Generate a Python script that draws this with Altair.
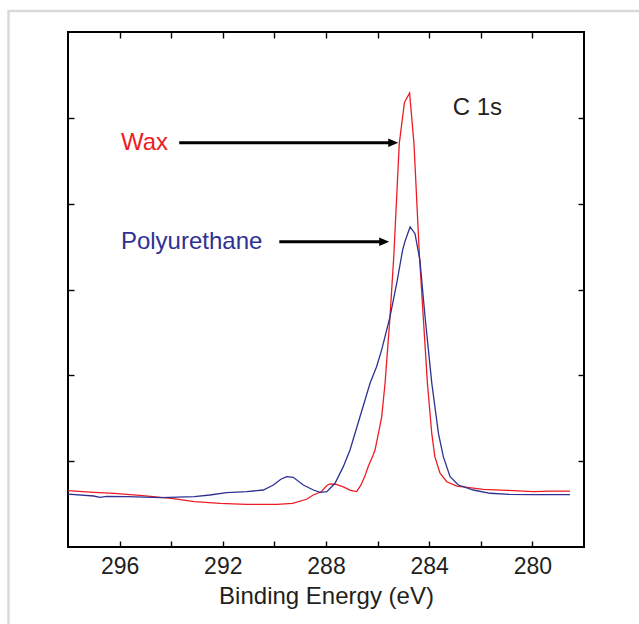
import altair as alt
import pandas as pd

# C 1s spectra: binding energy (eV) and intensity (arbitrary units)
wax_be = [298.0, 297.0, 296.2, 295.1, 294.0, 293.1, 292.1, 291.1, 289.9, 289.3,
          288.75, 288.5, 288.2, 287.95, 287.84, 287.6, 287.33, 287.05, 286.81, 286.65,
          286.5, 286.36, 286.2, 286.1, 285.95, 285.84, 285.71, 285.52, 285.37, 285.16,
          284.96, 284.76, 284.59, 284.38, 284.23, 284.07, 283.9, 283.78, 283.58, 283.32,
          282.93, 282.68, 281.9, 281.0, 279.96, 279.3, 278.54]
wax_int = [0.656, 0.637, 0.625, 0.598, 0.567, 0.528, 0.509, 0.497, 0.497, 0.509,
           0.556, 0.606, 0.64, 0.72, 0.734, 0.73, 0.70, 0.66, 0.645, 0.72,
           0.82, 0.94, 1.05, 1.13, 1.35, 1.52, 1.91, 2.68, 3.40, 4.70,
           5.18, 5.29, 4.70, 3.40, 2.68, 1.91, 1.32, 1.05, 0.86, 0.76,
           0.71, 0.70, 0.672, 0.66, 0.645, 0.65, 0.652]

pu_be = [298.0, 297.0, 296.76, 296.5, 295.7, 294.4, 293.1, 292.5, 291.85, 291.07,
         290.43, 290.04, 289.75, 289.52, 289.27, 288.88, 288.49, 288.23, 287.97, 287.84,
         287.65, 287.33, 287.07, 286.88, 286.68, 286.49, 286.29, 286.04, 285.84, 285.52,
         285.26, 285.03, 284.94, 284.74, 284.55, 284.36, 284.16, 283.9, 283.64, 283.45,
         283.19, 282.87, 282.29, 281.64, 280.9, 279.96, 278.54]
pu_int = [0.617, 0.594, 0.579, 0.59, 0.586, 0.575, 0.586, 0.606, 0.633, 0.645,
          0.664, 0.722, 0.79, 0.82, 0.812, 0.722, 0.664, 0.637, 0.645, 0.684,
          0.742, 0.936, 1.13, 1.32, 1.52, 1.71, 1.91, 2.10, 2.30, 2.68,
          3.07, 3.46, 3.56, 3.73, 3.65, 3.34, 2.68, 1.91, 1.32, 1.05,
          0.82, 0.722, 0.664, 0.626, 0.612, 0.61, 0.61]

series_names = ["Wax", "Polyurethane"]
series_colors = ["#ED1C24", "#2E3192"]

# axis ticks
x_label_values = [296, 292, 288, 284, 280]
x_tick_values = [296, 294, 292, 290, 288, 286, 284, 282, 280]
y_tick_values = [1, 2, 3, 4, 5]

# annotation labels and arrows
label_text = ["Wax", "Polyurethane", "C 1s"]
label_be = [295.95, 295.95, 283.09]
label_int = [4.625, 3.468, 5.033]
label_color = ["#ED1C24", "#2E3192", "#231F20"]

arrow_start = [293.69, 289.81]
arrow_tip = [285.20, 285.55]
arrow_int = [4.71, 3.557]

W, H = 516, 515
FONT = "Liberation Sans"
INK = "#231F20"

spectra = pd.concat([
    pd.DataFrame({"be": wax_be, "intensity": wax_int, "sample": "Wax"}),
    pd.DataFrame({"be": pu_be, "intensity": pu_int, "sample": "Polyurethane"}),
])
labels = pd.DataFrame({"text": label_text, "be": label_be, "intensity": label_int,
                       "color": label_color})
arrows = pd.DataFrame({"start": arrow_start, "tip": arrow_tip, "intensity": arrow_int})

xs = alt.Scale(domain=[278, 298], reverse=True, nice=False, zero=False)
ys = alt.Scale(domain=[0, 6], nice=False, zero=False)


def tick_axis(orient, values, offset):
    # ticks only, shifted across the plot so they point inward
    return alt.Axis(orient=orient, offset=offset, values=values, labels=False,
                    domain=False, grid=False, ticks=True, tickSize=6,
                    tickColor="black", tickWidth=1.4, title=None)


# outer figure border
border = alt.Chart(pd.DataFrame({"k": [0]})).mark_rect(
    filled=False, stroke="#D9D9D9", strokeWidth=2.5
).encode(
    x=alt.value(-59.5), y=alt.value(-21), x2=alt.value(900), y2=alt.value(900)
)

lines = alt.Chart(spectra).mark_line(strokeWidth=1.3).encode(
    x=alt.X("be:Q", scale=xs, axis=alt.Axis(
        orient="bottom", values=x_label_values, ticks=False, domain=False, grid=False,
        labelFont=FONT, labelFontSize=23, labelColor=INK, labelPadding=8,
        title="Binding Energy (eV)", titleFont=FONT, titleFontSize=24,
        titleFontWeight="normal", titleColor=INK, titlePadding=6)),
    y=alt.Y("intensity:Q", scale=ys, axis=tick_axis("right", y_tick_values, -W)),
    color=alt.Color("sample:N", scale=alt.Scale(domain=series_names, range=series_colors),
                    legend=None),
)

arrow_shafts = alt.Chart(arrows).mark_rule(strokeWidth=3, color="black", x2Offset=-6).encode(
    x=alt.X("start:Q", scale=xs, axis=tick_axis("top", x_tick_values, -H)),
    x2="tip:Q",
    y=alt.Y("intensity:Q", scale=ys, axis=tick_axis("left", y_tick_values, -W)),
)

arrow_heads = alt.Chart(arrows).mark_point(
    shape="M-1,-0.42L0,0L-1,0.42Z", size=400, filled=True, color="black", opacity=1
).encode(
    x=alt.X("tip:Q", scale=xs, axis=tick_axis("bottom", x_tick_values, -H)),
    y=alt.Y("intensity:Q", scale=ys, axis=None),
)

texts = alt.Chart(labels).mark_text(
    align="left", baseline="alphabetic", font=FONT, fontSize=24
).encode(
    x=alt.X("be:Q", scale=xs, axis=None),
    y=alt.Y("intensity:Q", scale=ys, axis=None),
    text="text:N",
    color=alt.Color("color:N", scale=None),
)

chart = alt.layer(border, lines, arrow_shafts, arrow_heads, texts).resolve_axis(
    x="independent", y="independent"
).properties(
    width=W, height=H,
    autosize=alt.AutoSizeParams(type="none"),
    padding={"left": 68, "top": 32, "right": 55, "bottom": 77},
    background="white",
).configure_view(stroke="black", strokeWidth=2)

chart.save("out.html", embed_options={"renderer": "svg", "actions": False})
